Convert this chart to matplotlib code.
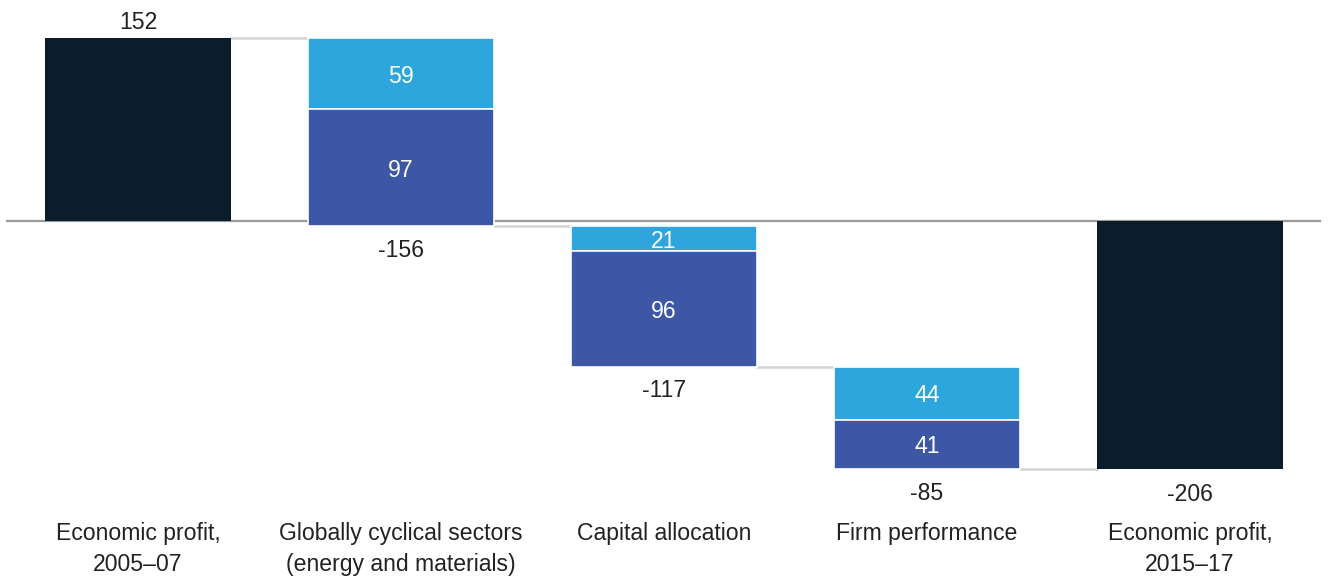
import numpy as np
import matplotlib.pyplot as plt

plt.rcParams['font.family'] = ['Liberation Sans', 'DejaVu Sans']

categories = ["Economic profit,\n2005\u201307",
              "Globally cyclical sectors\n(energy and materials)",
              "Capital allocation",
              "Firm performance",
              "Economic profit,\n2015\u201317"]
start_value = 152
end_value = -206
light_part = [59, 21, 44]
dark_part = [97, 96, 41]
step_totals = [-156, -117, -85]

navy = '#0b1d2b'
light_blue = '#2ea6dd'
dark_blue = '#3d56a6'
text_col = '#222222'
conn_col = '#d4d4d4'

fig = plt.figure(figsize=(13.28, 5.76), dpi=100)
ax = fig.add_axes([0, 0, 1, 1])
ax.set_xlim(-0.5247, 4.525)
ax.set_ylim(-295, 183.5)
ax.axis('off')

w = 0.707
fs = 16.6

# zero line
ax.plot([-0.498, 4.494], [0, 0], color='#9a9a9a', lw=1.6, zorder=1)

# first and last totals
ax.bar(0, start_value, width=w, color=navy, zorder=2)
ax.bar(4, end_value, width=w, color=navy, zorder=2)
ax.annotate(str(start_value), (0, start_value), xytext=(0, 11), textcoords='offset points',
            ha='center', va='center', fontsize=fs, color=text_col)
ax.annotate(str(end_value), (4, end_value), xytext=(0, -18.5), textcoords='offset points',
            ha='center', va='center', fontsize=fs, color=text_col)

# step bars
level = start_value
levels = [level]
for i, (lp, dp, tot) in enumerate(zip(light_part, dark_part, step_totals)):
    x = i + 1
    ax.bar(x, -lp, bottom=level, width=w, color=light_blue, edgecolor='white', lw=1.2, zorder=2)
    ax.bar(x, -dp, bottom=level - lp, width=w, color=dark_blue, edgecolor='white', lw=1.2, zorder=2)
    ax.annotate(str(lp), (x, level - lp / 2), xytext=(0, -2), textcoords='offset points',
                ha='center', va='center', fontsize=fs, color='white', zorder=3)
    ax.annotate(str(dp), (x, level - lp - dp / 2), xytext=(0, -2), textcoords='offset points',
                ha='center', va='center', fontsize=fs, color='white', zorder=3)
    level = level + tot
    levels.append(level)
    ax.annotate(str(tot), (x, level), xytext=(0, -17.5), textcoords='offset points',
                ha='center', va='center', fontsize=fs, color=text_col)

# connectors between bars
for i, lv in enumerate(levels):
    ax.plot([i + w / 2, i + 1 - w / 2], [lv, lv], color=conn_col, lw=1.8, zorder=1)

# category labels
for i, c in enumerate(categories):
    ax.text(i, -250.5, c, ha='center', va='top', fontsize=fs, color=text_col, linespacing=1.4)

plt.savefig('out.png', dpi=100)
plt.close()
